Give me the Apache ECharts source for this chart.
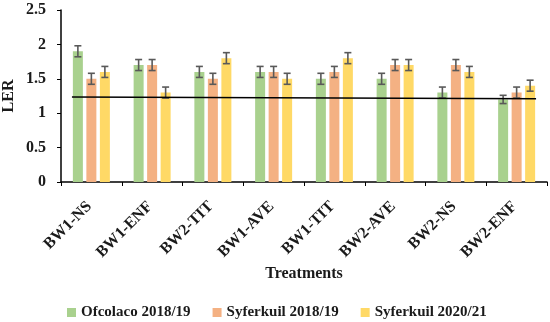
<!DOCTYPE html>
<html><head><meta charset="utf-8">
<script src="https://cdn.jsdelivr.net/npm/echarts@6/dist/echarts.min.js"></script>
<style>html,body{margin:0;padding:0;background:#fff}#c{width:550px;height:322px}</style>
</head><body><div id="c"></div>
<script>
const categories = ['BW1-NS','BW1-ENF','BW2-TIT','BW1-AVE','BW1-TIT','BW2-AVE','BW2-NS','BW2-ENF'];
const seriesNames = ['Ofcolaco 2018/19','Syferkuil 2018/19','Syferkuil 2020/21'];
const ofcolaco = [1.9,1.7,1.6,1.6,1.5,1.5,1.3,1.2];
const syferkuil1819 = [1.5,1.7,1.5,1.6,1.6,1.7,1.7,1.3];
const syferkuil2021 = [1.6,1.3,1.8,1.5,1.8,1.7,1.6,1.4];
const errOfcolaco = [0.08,0.08,0.08,0.08,0.08,0.08,0.08,0.06];
const errSyf1819 = [0.08,0.08,0.08,0.08,0.08,0.08,0.08,0.08];
const errSyf2021 = [0.08,0.08,0.08,0.08,0.08,0.08,0.08,0.08];
const trendX = [-0.32, 7.32];
const trendY = [1.235, 1.21];
const yTicks = [0,0.5,1,1.5,2,2.5];

const colors = ['#A9D18E','#F4B183','#FFD966'];
const values = [ofcolaco, syferkuil1819, syferkuil2021];
const errs = [errOfcolaco, errSyf1819, errSyf2021];
const barW = 10, gapPx = 3.5;
const font = '"Liberation Serif", "Times New Roman", serif';
const txt = {fontFamily:font, fontWeight:'bold', fontSize:16, color:'#1a1a1a'};

const chart = echarts.init(document.getElementById('c'), null, {renderer:'canvas'});
const series = [];
values.forEach((v,i)=>{
  series.push({name:seriesNames[i], type:'bar', data:v, barWidth:barW, barGap:'35%',
    itemStyle:{color:colors[i]}, xAxisIndex:0, yAxisIndex:0});
});
values.forEach((v,i)=>{
  const off = (i-1)*(barW+gapPx);
  series.push({type:'custom', xAxisIndex:0, yAxisIndex:0, silent:true, z:5,
    data: v.map((val,j)=>[j,val,errs[i][j]]),
    renderItem:function(params, api){
      const x = api.value(0), y = api.value(1), e = api.value(2);
      const top = api.coord([x, y+e]);
      const bot = api.coord([x, y-e]);
      const cx = top[0] + off;
      const hw = 3.5;
      const st = {stroke:'#595959', lineWidth:1.6};
      return {type:'group', children:[
        {type:'line', shape:{x1:cx,y1:top[1],x2:cx,y2:bot[1]}, style:st},
        {type:'line', shape:{x1:cx-hw,y1:top[1],x2:cx+hw,y2:top[1]}, style:st},
        {type:'line', shape:{x1:cx-hw,y1:bot[1],x2:cx+hw,y2:bot[1]}, style:st}
      ]};
    }
  });
});
series.push({type:'line', xAxisIndex:1, yAxisIndex:0, data: trendX.map((x,i)=>[x,trendY[i]]),
  symbol:'none', lineStyle:{color:'#000', width:1.6}, z:6, silent:true});

chart.setOption({
  animation:false,
  textStyle:{fontFamily:font},
  grid:{left:61, right:3, top:10, bottom:140, containLabel:false, outerBoundsMode:'none'},
  legend:{data:seriesNames, left:62, top:300, icon:'rect', itemWidth:9, itemHeight:9, itemGap:22,
    textStyle:Object.assign({}, txt, {fontSize:15})},
  xAxis:[{type:'category', data:categories,
    axisLine:{lineStyle:{color:'#000', width:1.5}},
    axisTick:{show:true, length:4, lineStyle:{color:'#000'}},
    axisLabel:Object.assign({rotate:45, margin:20, interval:0, padding:[0,3,0,0]}, txt),
    name:'Treatments', nameLocation:'middle', nameGap:84, nameMoveOverlap:false,
    nameTextStyle:txt
  },{type:'value', min:-0.5, max:7.5, show:false}],
  yAxis:{type:'value', min:0, max:2.5, interval:0.5,
    axisLine:{show:true, onZero:false, lineStyle:{color:'#000', width:1.5}},
    axisTick:{show:true, length:4, lineStyle:{color:'#000'}},
    splitLine:{show:false},
    axisLabel:Object.assign({margin:15, formatter:v=> yTicks.includes(v) ? String(v) : ''}, txt),
    name:'LER', nameLocation:'middle', nameGap:44, nameMoveOverlap:false,
    nameTextStyle:txt
  },
  series:series
});
</script></body></html>
